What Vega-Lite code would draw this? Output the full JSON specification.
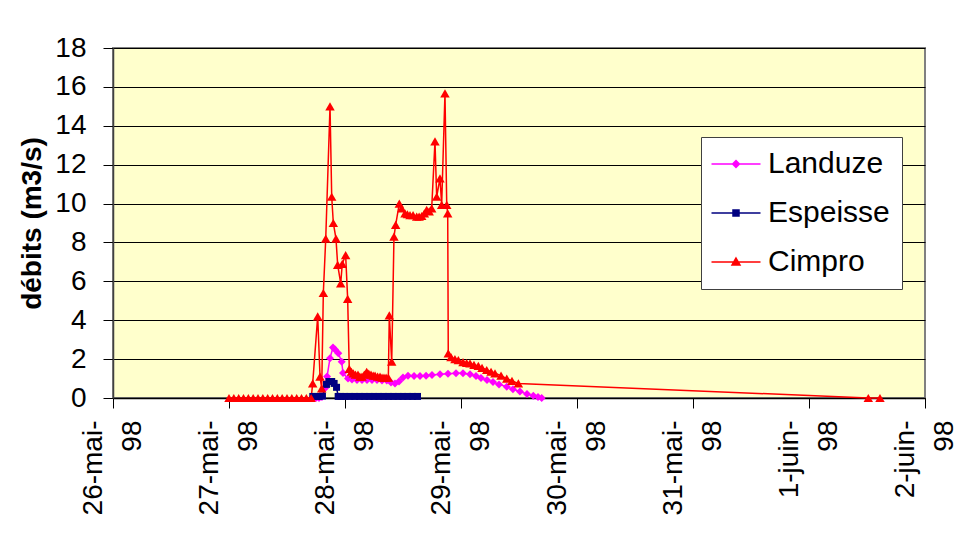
{
  "$schema": "https://vega.github.io/schema/vega-lite/v6.json",
  "autosize": {"type": "none"},
  "width": 812,
  "height": 350,
  "padding": {"left": 113, "top": 48, "right": 39, "bottom": 135},
  "background": "#FFFFFF",
  "config": {
    "font": "Liberation Sans",
    "view": {"fill": "#FFFFCC", "stroke": "#808080", "strokeWidth": 2},
    "axis": {"labelFont": "Liberation Sans", "labelColor": "#000000", "tickColor": "#000000", "domainColor": "#000000"}
  },
  "data": {
    "values": [
      {"t": "1998-05-27T17:23", "s": "Landuze", "q": 0.05},
      {"t": "1998-05-27T18:00", "s": "Landuze", "q": 0.0},
      {"t": "1998-05-27T18:37", "s": "Landuze", "q": 0.0},
      {"t": "1998-05-27T19:14", "s": "Landuze", "q": 0.05},
      {"t": "1998-05-27T19:52", "s": "Landuze", "q": 0.5},
      {"t": "1998-05-27T20:17", "s": "Landuze", "q": 1.1},
      {"t": "1998-05-27T20:54", "s": "Landuze", "q": 2.05},
      {"t": "1998-05-27T21:31", "s": "Landuze", "q": 2.6},
      {"t": "1998-05-27T21:56", "s": "Landuze", "q": 2.5},
      {"t": "1998-05-27T22:37", "s": "Landuze", "q": 2.3},
      {"t": "1998-05-27T23:19", "s": "Landuze", "q": 1.87},
      {"t": "1998-05-27T23:35", "s": "Landuze", "q": 1.28},
      {"t": "1998-05-28T00:37", "s": "Landuze", "q": 1.0},
      {"t": "1998-05-28T01:27", "s": "Landuze", "q": 0.95},
      {"t": "1998-05-28T02:29", "s": "Landuze", "q": 0.93},
      {"t": "1998-05-28T03:31", "s": "Landuze", "q": 0.93},
      {"t": "1998-05-28T04:33", "s": "Landuze", "q": 0.92},
      {"t": "1998-05-28T05:35", "s": "Landuze", "q": 0.93},
      {"t": "1998-05-28T06:37", "s": "Landuze", "q": 0.92},
      {"t": "1998-05-28T07:39", "s": "Landuze", "q": 0.9},
      {"t": "1998-05-28T08:38", "s": "Landuze", "q": 0.9},
      {"t": "1998-05-28T09:31", "s": "Landuze", "q": 0.8},
      {"t": "1998-05-28T10:21", "s": "Landuze", "q": 0.75},
      {"t": "1998-05-28T11:10", "s": "Landuze", "q": 0.85},
      {"t": "1998-05-28T12:00", "s": "Landuze", "q": 1.05},
      {"t": "1998-05-28T13:02", "s": "Landuze", "q": 1.15},
      {"t": "1998-05-28T14:17", "s": "Landuze", "q": 1.13},
      {"t": "1998-05-28T15:31", "s": "Landuze", "q": 1.13},
      {"t": "1998-05-28T16:46", "s": "Landuze", "q": 1.15},
      {"t": "1998-05-28T18:00", "s": "Landuze", "q": 1.18},
      {"t": "1998-05-28T19:39", "s": "Landuze", "q": 1.22},
      {"t": "1998-05-28T21:19", "s": "Landuze", "q": 1.25},
      {"t": "1998-05-28T22:58", "s": "Landuze", "q": 1.27},
      {"t": "1998-05-29T00:25", "s": "Landuze", "q": 1.27},
      {"t": "1998-05-29T01:52", "s": "Landuze", "q": 1.22},
      {"t": "1998-05-29T03:06", "s": "Landuze", "q": 1.13},
      {"t": "1998-05-29T04:08", "s": "Landuze", "q": 1.03},
      {"t": "1998-05-29T05:23", "s": "Landuze", "q": 0.92},
      {"t": "1998-05-29T06:37", "s": "Landuze", "q": 0.82},
      {"t": "1998-05-29T07:52", "s": "Landuze", "q": 0.7},
      {"t": "1998-05-29T09:28", "s": "Landuze", "q": 0.58},
      {"t": "1998-05-29T10:45", "s": "Landuze", "q": 0.45},
      {"t": "1998-05-29T12:12", "s": "Landuze", "q": 0.33},
      {"t": "1998-05-29T13:39", "s": "Landuze", "q": 0.2},
      {"t": "1998-05-29T14:58", "s": "Landuze", "q": 0.12},
      {"t": "1998-05-29T15:56", "s": "Landuze", "q": 0.05},
      {"t": "1998-05-29T16:42", "s": "Landuze", "q": 0.0},

      {"t": "1998-05-27T17:20", "s": "Espeisse", "q": 0.08},
      {"t": "1998-05-27T18:00", "s": "Espeisse", "q": 0.08},
      {"t": "1998-05-27T18:40", "s": "Espeisse", "q": 0.08},
      {"t": "1998-05-27T19:20", "s": "Espeisse", "q": 0.1},
      {"t": "1998-05-27T20:10", "s": "Espeisse", "q": 0.7},
      {"t": "1998-05-27T20:40", "s": "Espeisse", "q": 0.85},
      {"t": "1998-05-27T21:15", "s": "Espeisse", "q": 0.85},
      {"t": "1998-05-27T21:45", "s": "Espeisse", "q": 0.75},
      {"t": "1998-05-27T22:15", "s": "Espeisse", "q": 0.55},
      {"t": "1998-05-27T22:35", "s": "Espeisse", "q": 0.08},
      {"t": "1998-05-27T23:10", "s": "Espeisse", "q": 0.08},
      {"t": "1998-05-28T00:00", "s": "Espeisse", "q": 0.08},
      {"t": "1998-05-28T01:00", "s": "Espeisse", "q": 0.08},
      {"t": "1998-05-28T02:00", "s": "Espeisse", "q": 0.08},
      {"t": "1998-05-28T03:00", "s": "Espeisse", "q": 0.08},
      {"t": "1998-05-28T04:00", "s": "Espeisse", "q": 0.08},
      {"t": "1998-05-28T05:00", "s": "Espeisse", "q": 0.08},
      {"t": "1998-05-28T06:00", "s": "Espeisse", "q": 0.08},
      {"t": "1998-05-28T07:00", "s": "Espeisse", "q": 0.08},
      {"t": "1998-05-28T08:00", "s": "Espeisse", "q": 0.08},
      {"t": "1998-05-28T09:00", "s": "Espeisse", "q": 0.08},
      {"t": "1998-05-28T10:00", "s": "Espeisse", "q": 0.08},
      {"t": "1998-05-28T11:00", "s": "Espeisse", "q": 0.08},
      {"t": "1998-05-28T12:00", "s": "Espeisse", "q": 0.08},
      {"t": "1998-05-28T13:00", "s": "Espeisse", "q": 0.08},
      {"t": "1998-05-28T14:00", "s": "Espeisse", "q": 0.08},
      {"t": "1998-05-28T15:00", "s": "Espeisse", "q": 0.08},

      {"t": "1998-05-27T00:00", "s": "Cimpro", "q": 0},
      {"t": "1998-05-27T01:00", "s": "Cimpro", "q": 0},
      {"t": "1998-05-27T02:00", "s": "Cimpro", "q": 0},
      {"t": "1998-05-27T03:00", "s": "Cimpro", "q": 0},
      {"t": "1998-05-27T04:00", "s": "Cimpro", "q": 0},
      {"t": "1998-05-27T05:00", "s": "Cimpro", "q": 0},
      {"t": "1998-05-27T06:00", "s": "Cimpro", "q": 0},
      {"t": "1998-05-27T07:00", "s": "Cimpro", "q": 0},
      {"t": "1998-05-27T08:00", "s": "Cimpro", "q": 0},
      {"t": "1998-05-27T09:00", "s": "Cimpro", "q": 0},
      {"t": "1998-05-27T10:00", "s": "Cimpro", "q": 0},
      {"t": "1998-05-27T11:00", "s": "Cimpro", "q": 0},
      {"t": "1998-05-27T12:00", "s": "Cimpro", "q": 0},
      {"t": "1998-05-27T13:00", "s": "Cimpro", "q": 0},
      {"t": "1998-05-27T14:00", "s": "Cimpro", "q": 0},
      {"t": "1998-05-27T15:00", "s": "Cimpro", "q": 0},
      {"t": "1998-05-27T16:00", "s": "Cimpro", "q": 0},
      {"t": "1998-05-27T17:00", "s": "Cimpro", "q": 0},
      {"t": "1998-05-27T17:19", "s": "Cimpro", "q": 0.75},
      {"t": "1998-05-27T18:21", "s": "Cimpro", "q": 4.2},
      {"t": "1998-05-27T18:50", "s": "Cimpro", "q": 1.1},
      {"t": "1998-05-27T19:11", "s": "Cimpro", "q": 0.5},
      {"t": "1998-05-27T19:31", "s": "Cimpro", "q": 5.4},
      {"t": "1998-05-27T20:01", "s": "Cimpro", "q": 8.2},
      {"t": "1998-05-27T20:54", "s": "Cimpro", "q": 15.0},
      {"t": "1998-05-27T21:15", "s": "Cimpro", "q": 10.35},
      {"t": "1998-05-27T21:35", "s": "Cimpro", "q": 9.0},
      {"t": "1998-05-27T22:08", "s": "Cimpro", "q": 8.2},
      {"t": "1998-05-27T22:29", "s": "Cimpro", "q": 6.85},
      {"t": "1998-05-27T23:07", "s": "Cimpro", "q": 5.9},
      {"t": "1998-05-27T23:26", "s": "Cimpro", "q": 6.9},
      {"t": "1998-05-28T00:08", "s": "Cimpro", "q": 7.35},
      {"t": "1998-05-28T00:33", "s": "Cimpro", "q": 5.1},
      {"t": "1998-05-28T00:53", "s": "Cimpro", "q": 1.5},
      {"t": "1998-05-28T01:20", "s": "Cimpro", "q": 1.35},
      {"t": "1998-05-28T01:43", "s": "Cimpro", "q": 1.27},
      {"t": "1998-05-28T02:10", "s": "Cimpro", "q": 1.2},
      {"t": "1998-05-28T02:41", "s": "Cimpro", "q": 1.2},
      {"t": "1998-05-28T03:05", "s": "Cimpro", "q": 1.1},
      {"t": "1998-05-28T03:31", "s": "Cimpro", "q": 1.1},
      {"t": "1998-05-28T04:00", "s": "Cimpro", "q": 1.2},
      {"t": "1998-05-28T04:29", "s": "Cimpro", "q": 1.35},
      {"t": "1998-05-28T04:55", "s": "Cimpro", "q": 1.25},
      {"t": "1998-05-28T05:23", "s": "Cimpro", "q": 1.2},
      {"t": "1998-05-28T05:50", "s": "Cimpro", "q": 1.15},
      {"t": "1998-05-28T06:13", "s": "Cimpro", "q": 1.15},
      {"t": "1998-05-28T06:45", "s": "Cimpro", "q": 1.1},
      {"t": "1998-05-28T07:15", "s": "Cimpro", "q": 1.1},
      {"t": "1998-05-28T07:40", "s": "Cimpro", "q": 1.05},
      {"t": "1998-05-28T08:04", "s": "Cimpro", "q": 1.05},
      {"t": "1998-05-28T08:30", "s": "Cimpro", "q": 1.05},
      {"t": "1998-05-28T08:58", "s": "Cimpro", "q": 1.05},
      {"t": "1998-05-28T09:10", "s": "Cimpro", "q": 4.25},
      {"t": "1998-05-28T09:40", "s": "Cimpro", "q": 1.87},
      {"t": "1998-05-28T10:08", "s": "Cimpro", "q": 8.3},
      {"t": "1998-05-28T10:29", "s": "Cimpro", "q": 8.9},
      {"t": "1998-05-28T11:14", "s": "Cimpro", "q": 10.0},
      {"t": "1998-05-28T11:44", "s": "Cimpro", "q": 9.75},
      {"t": "1998-05-28T12:25", "s": "Cimpro", "q": 9.5},
      {"t": "1998-05-28T12:55", "s": "Cimpro", "q": 9.45},
      {"t": "1998-05-28T13:27", "s": "Cimpro", "q": 9.4},
      {"t": "1998-05-28T14:05", "s": "Cimpro", "q": 9.4},
      {"t": "1998-05-28T14:50", "s": "Cimpro", "q": 9.33},
      {"t": "1998-05-28T15:20", "s": "Cimpro", "q": 9.33},
      {"t": "1998-05-28T15:52", "s": "Cimpro", "q": 9.36},
      {"t": "1998-05-28T16:25", "s": "Cimpro", "q": 9.5},
      {"t": "1998-05-28T16:54", "s": "Cimpro", "q": 9.67},
      {"t": "1998-05-28T17:25", "s": "Cimpro", "q": 9.6},
      {"t": "1998-05-28T17:56", "s": "Cimpro", "q": 9.75},
      {"t": "1998-05-28T18:37", "s": "Cimpro", "q": 13.2},
      {"t": "1998-05-28T18:58", "s": "Cimpro", "q": 10.35},
      {"t": "1998-05-28T19:39", "s": "Cimpro", "q": 11.3},
      {"t": "1998-05-28T20:00", "s": "Cimpro", "q": 9.93},
      {"t": "1998-05-28T20:41", "s": "Cimpro", "q": 15.67},
      {"t": "1998-05-28T21:03", "s": "Cimpro", "q": 9.93},
      {"t": "1998-05-28T21:15", "s": "Cimpro", "q": 9.5},
      {"t": "1998-05-28T21:22", "s": "Cimpro", "q": 2.3},
      {"t": "1998-05-28T21:56", "s": "Cimpro", "q": 2.1},
      {"t": "1998-05-28T22:45", "s": "Cimpro", "q": 2.0},
      {"t": "1998-05-28T23:27", "s": "Cimpro", "q": 1.95},
      {"t": "1998-05-29T00:25", "s": "Cimpro", "q": 1.85},
      {"t": "1998-05-29T01:10", "s": "Cimpro", "q": 1.8},
      {"t": "1998-05-29T01:52", "s": "Cimpro", "q": 1.78},
      {"t": "1998-05-29T02:41", "s": "Cimpro", "q": 1.7},
      {"t": "1998-05-29T03:35", "s": "Cimpro", "q": 1.65},
      {"t": "1998-05-29T04:21", "s": "Cimpro", "q": 1.55},
      {"t": "1998-05-29T05:19", "s": "Cimpro", "q": 1.44},
      {"t": "1998-05-29T06:13", "s": "Cimpro", "q": 1.35},
      {"t": "1998-05-29T07:02", "s": "Cimpro", "q": 1.27},
      {"t": "1998-05-29T08:17", "s": "Cimpro", "q": 1.15},
      {"t": "1998-05-29T09:28", "s": "Cimpro", "q": 1.0},
      {"t": "1998-05-29T10:33", "s": "Cimpro", "q": 0.88},
      {"t": "1998-05-29T11:52", "s": "Cimpro", "q": 0.75},
      {"t": "1998-06-01T12:16", "s": "Cimpro", "q": 0},
      {"t": "1998-06-01T14:41", "s": "Cimpro", "q": 0}
    ]
  },
  "encoding": {
    "x": {
      "field": "t",
      "type": "temporal",
      "scale": {"domain": [{"year": 1998, "month": 5, "date": 26}, {"year": 1998, "month": 6, "date": 2}]},
      "axis": {
        "title": null,
        "values": [
          {"year": 1998, "month": 5, "date": 26},
          {"year": 1998, "month": 5, "date": 27},
          {"year": 1998, "month": 5, "date": 28},
          {"year": 1998, "month": 5, "date": 29},
          {"year": 1998, "month": 5, "date": 30},
          {"year": 1998, "month": 5, "date": 31},
          {"year": 1998, "month": 6, "date": 1},
          {"year": 1998, "month": 6, "date": 2}
        ],
        "labelExpr": "[date(datum.value) + (month(datum.value) == 4 ? '-mai-' : '-juin-'), '98']",
        "labelAngle": 270,
        "labelAlign": "right",
        "labelBaseline": "middle",
        "labelFontSize": 28,
        "labelLineHeight": 39,
        "labelPadding": 12,
        "labelOffset": -20,
        "labelOverlap": false,
        "labelFlush": false,
        "labelBound": false,
        "tickSize": 10,
        "grid": false,
        "domainColor": "#000000",
        "domainWidth": 1.5
      }
    },
    "y": {
      "field": "q",
      "type": "quantitative",
      "scale": {"domain": [0, 18], "nice": false, "zero": true},
      "axis": {
        "title": "débits (m3/s)",
        "titleFontSize": 28,
        "titleFontWeight": "bold",
        "titleFont": "Liberation Sans",
        "titleColor": "#000000",
        "titlePadding": 8,
        "values": [0, 2, 4, 6, 8, 10, 12, 14, 16, 18],
        "labelFontSize": 28,
        "labelPadding": 17,
        "tickSize": 10,
        "grid": true,
        "gridColor": "#000000",
        "gridWidth": 1,
        "gridOpacity": 1,
        "domainColor": "#404040",
        "domainWidth": 1.5
      }
    },
    "color": {
      "field": "s",
      "type": "nominal",
      "scale": {"domain": ["Landuze", "Espeisse", "Cimpro"], "range": ["#FF00FF", "#000080", "#FF0000"]},
      "legend": {
        "title": null,
        "orient": "none",
        "legendX": 588,
        "legendY": 89,
        "fillColor": "#FFFFFF",
        "strokeColor": "#404040",
        "padding": 12,
        "labelFont": "Liberation Sans",
        "labelFontSize": 30,
        "labelColor": "#000000",
        "symbolOffset": 8,
        "labelOffset": 17,
        "symbolSize": 400,
        "rowPadding": 19,
        "symbolStrokeWidth": 1.5,
        "symbolOpacity": 1
      }
    }
  },
  "layer": [
    {
      "mark": {"type": "line", "strokeWidth": 1.5}
    },
    {
      "mark": {"type": "point", "filled": true, "opacity": 0},
      "encoding": {
        "shape": {
          "field": "s",
          "type": "nominal",
          "scale": {
            "domain": ["Landuze", "Espeisse", "Cimpro"],
            "range": [
              "M-2.45,0H2.45M0,-0.34L0.34,0L0,0.34L-0.34,0ZM-0.22,-0.12H0.22M-0.22,0.12H0.22M-0.1,-0.24H0.1M-0.1,0.24H0.1",
              "M-2.45,0H2.45M-0.3,-0.3H0.3V0.3H-0.3ZM-0.3,-0.15H0.3M-0.3,0.15H0.3",
              "M-2.45,0H2.45M0,-0.4L0.4,0.3H-0.4ZM-0.08,-0.26H0.08M-0.16,-0.12H0.16M-0.3,0.12H0.3M-0.35,0.22H0.35"
            ]
          }
        }
      }
    },
    {
      "transform": [{"filter": "datum.s === 'Landuze'"}],
      "mark": {"type": "point", "filled": true, "opacity": 1, "shape": "diamond", "size": 64, "clip": false}
    },
    {
      "transform": [{"filter": "datum.s === 'Espeisse'"}],
      "mark": {"type": "point", "filled": true, "opacity": 1, "shape": "square", "size": 49, "clip": false}
    },
    {
      "transform": [{"filter": "datum.s === 'Cimpro'"}],
      "mark": {"type": "point", "filled": true, "opacity": 1, "shape": "triangle-up", "size": 90, "clip": false}
    }
  ]
}
